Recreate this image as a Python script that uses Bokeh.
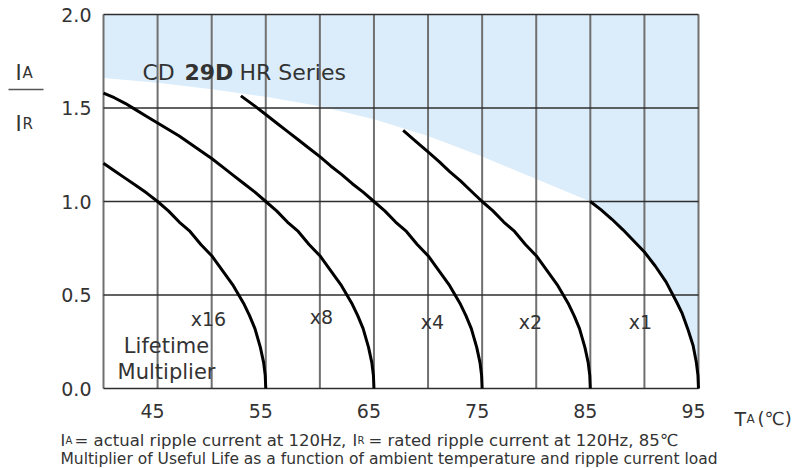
from bokeh.plotting import figure
from bokeh.models import Range1d, Label, Arrow
from bokeh.core.properties import value
from bokeh.embed import file_html
from bokeh.resources import INLINE

# ---------------- data ----------------
x_ticks = [45, 55, 65, 75, 85, 95]
x_tick_labels = ["45", "55", "65", "75", "85", "95"]
x_grid = [40, 45, 50, 55, 60, 65, 70, 75, 80, 85, 90, 95]
y_ticks = [0.0, 0.5, 1.0, 1.5, 2.0]
y_tick_labels = ["0.0", "0.5", "1.0", "1.5", "2.0"]

# upper edge of the white (allowed) area
limit_T = [40, 45, 50, 55, 60, 65, 70, 75, 80, 85]
limit_I = [1.66, 1.635, 1.60, 1.56, 1.51, 1.44, 1.35, 1.24, 1.12, 1.00]

x16_T = [40, 41, 42, 43, 44, 45, 46, 47, 48, 49, 50, 51, 52, 53, 53.5, 54, 54.5, 54.8, 54.95, 55]
x16_I = [1.205, 1.165, 1.125, 1.085, 1.045, 1.00, 0.95, 0.89, 0.84, 0.77, 0.71, 0.63, 0.55,
         0.45, 0.39, 0.32, 0.22, 0.14, 0.07, 0.0]

x8_T = [40, 41, 42, 43, 44, 45, 46, 47, 48, 49, 50, 51, 52, 53, 54, 55, 56, 57, 58, 59, 60,
        61, 62, 63, 63.5, 64, 64.5, 64.8, 64.95, 65]
x8_I = [1.58, 1.555, 1.525, 1.49, 1.455, 1.42, 1.385, 1.35, 1.31, 1.27, 1.23, 1.185, 1.14,
        1.095, 1.05, 1.00, 0.95, 0.89, 0.84, 0.77, 0.71, 0.63, 0.55, 0.45, 0.39, 0.32, 0.22,
        0.14, 0.07, 0.0]

x4_T = [52.7, 54, 55, 56, 57, 58, 59, 60, 61, 62, 63, 64, 65, 66, 67, 68, 69, 70,
        71, 72, 73, 73.5, 74, 74.5, 74.8, 74.95, 75]
x4_I = [1.565, 1.51, 1.465, 1.42, 1.375, 1.33, 1.285, 1.24, 1.19, 1.145, 1.095, 1.05, 1.00,
        0.95, 0.89, 0.84, 0.77, 0.71, 0.63, 0.55, 0.45, 0.39, 0.32, 0.22, 0.14, 0.07, 0.0]

x2_T = [67.7, 69, 70, 71, 72, 73, 74, 75, 76, 77, 78, 79, 80, 81, 82, 83, 83.5, 84, 84.5,
        84.8, 84.95, 85]
x2_I = [1.38, 1.315, 1.265, 1.215, 1.16, 1.11, 1.055, 1.00, 0.95, 0.89, 0.84, 0.77, 0.71,
        0.63, 0.55, 0.45, 0.39, 0.32, 0.22, 0.14, 0.07, 0.0]

x1_T = [85, 86, 87, 88, 89, 90, 91, 92, 93, 93.5, 94, 94.5, 94.8, 94.95, 95]
x1_I = [1.00, 0.955, 0.905, 0.85, 0.79, 0.73, 0.655, 0.57, 0.46, 0.40, 0.32, 0.23, 0.14, 0.07, 0.0]

curves = [(x16_T, x16_I), (x8_T, x8_I), (x4_T, x4_I), (x2_T, x2_I), (x1_T, x1_I)]
mult_labels = ["x16", "x8", "x4", "x2", "x1"]

# ---------------- layout ----------------
FONT = "DejaVu Sans"
TXT = "#333333"
W, H = 801, 468
# plot area on the page: x 103..698 (40..95 degC), y 14..388 (2.0..0.0)
AX0, AX1, AY0, AY1 = 103, 698, 14, 388


def X(px):
    """page x pixel -> data x (annotation placement)"""
    return 40 + (px - AX0) * 55 / (AX1 - AX0)


def Y(py):
    """page y pixel -> data y (annotation placement)"""
    return (AY1 - py) * 2 / (AY1 - AY0)


p = figure(width=W, height=H, x_range=Range1d(X(0), X(W)), y_range=Range1d(Y(H), Y(0)),
           output_backend="svg", toolbar_location=None,
           min_border=0, min_border_left=0, min_border_right=0,
           min_border_top=0, min_border_bottom=0)
p.title.visible = False
p.axis.visible = False
p.grid.visible = False
p.outline_line_color = None
p.background_fill_color = "white"
p.border_fill_color = "white"

# shaded region (above limit and right of the x1 curve)
zone_x = limit_T + x1_T[1:] + [95, 40]
zone_y = limit_I + x1_I[1:] + [2.0, 2.0]
p.patch(zone_x, zone_y, fill_color="#dbedfb", line_color=None)

# grid lines
n = len(x_grid)
p.segment(x0=x_grid, y0=[y_ticks[0]] * n, x1=x_grid, y1=[y_ticks[-1]] * n,
          line_color="#707070", line_width=2)
m = len(y_ticks)
p.segment(x0=[x_grid[0]] * m, y0=y_ticks, x1=[x_grid[-1]] * m, y1=y_ticks,
          line_color="#2e2e2e", line_width=1.5)

# curves
for T, I in curves:
    p.line(T, I, line_color="black", line_width=3)

# tick labels
p.text(x=x_ticks, y=[Y(410.5)] * len(x_ticks), text=x_tick_labels, x_offset=-5,
       text_font=value(FONT), text_font_size="19px", text_color=TXT,
       text_align="center", text_baseline="middle")
p.text(x=[x_grid[0]] * m, y=y_ticks, text=y_tick_labels, x_offset=-12,
       text_font=value(FONT), text_font_size="19px", text_color=TXT,
       text_align="right", text_baseline="middle")


def lab(text, px, py, size, align="left", baseline="alphabetic", style="normal", color=TXT):
    p.add_layout(Label(x=X(px), y=Y(py), text=text, text_font=FONT, text_font_size=size,
                       text_align=align, text_baseline=baseline, text_font_style=style,
                       text_color=color))


# multiplier labels
mult_pos = [(208, 318), (321, 316), (432, 321), (530, 321), (640, 321)]
for t, (px, py) in zip(mult_labels, mult_pos):
    lab(t, px, py, "19px", align="center", baseline="middle")
lab("Lifetime", 166, 345, "21px", align="center", baseline="middle")
lab("Multiplier", 166, 371, "21px", align="center", baseline="middle")

# title
lab("CD", 142, 72, "22px")
lab("29D", 184, 72, "22px", style="bold")
lab("HR Series", 239, 72, "22px")

# y axis label  I_A / I_R
lab("I", 15, 72, "21px")
lab("A", 22, 72, "15px")
p.add_layout(Arrow(x_start=X(8), y_start=Y(89), x_end=X(43), y_end=Y(89),
                   start=None, end=None, line_color="#555555", line_width=1.5))
lab("I", 15, 123, "21px")
lab("R", 22, 123, "15px")

# x axis label  T_A(℃)
lab("T", 734, 418, "19px")
lab("A", 746, 418, "12px")
lab("(℃)", 757, 418, "18px")

# footnotes
lab("I", 60, 440, "16px")
lab("A", 65, 440, "10px")
lab("= actual ripple current at 120Hz,", 74, 440, "16.5px")
lab("I", 352, 440, "16px")
lab("R", 357, 440, "10px")
lab("= rated ripple current at 120Hz, 85℃", 368, 440, "16.5px")
lab("Multiplier of Useful Life as a function of ambient temperature and ripple current load",
    60, 458, "15.5px")

open("out.html", "w").write(file_html(p, INLINE))
